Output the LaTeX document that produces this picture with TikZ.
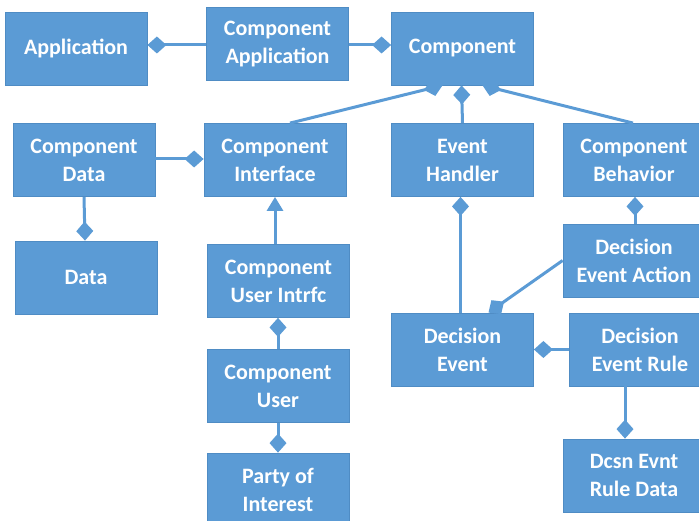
\documentclass[tikz,border=0pt]{standalone}
\usepackage{fontspec}
\setmainfont{Carlito}
\usetikzlibrary{arrows.meta}
\definecolor{boxblue}{HTML}{5B9BD5}
\definecolor{edgeblue}{HTML}{4F8CC4}
\begin{document}
\begin{tikzpicture}[
            x=1pt, y=-1pt,
            entity/.style={
                fill=boxblue,
                draw=edgeblue,
                line width=0.8pt,
                minimum width=142pt,
                minimum height=73pt,
                inner sep=0pt,
                align=center,
                text=white,
                font=\fontsize{22}{28}\selectfont\bfseries
            },
            link/.style={
                draw=boxblue,
                line width=3pt
            },
            owns/.style={
                link,
                -{Diamond[length=19pt,width=17pt]}
            },
            extends/.style={
                link,
                -{Triangle[length=14pt,width=16pt]}
            }
        ]
        \useasboundingbox (0,0) rectangle (699,521);
        \clip (0,0) rectangle (699,521);
        % top row
        \node[entity] (app) at (76, 48.5) {Application};
        \node[entity] (compapp) at (277.5, 44) {Component\\Application};
        \node[entity] (comp) at (462.5, 48.5) {Component};
        % second row
        \node[entity] (cdata) at (84, 160) {Component\\Data};
        \node[entity] (cintf) at (275, 160) {Component\\Interface};
        \node[entity] (evh) at (462.5, 160) {Event\\Handler};
        \node[entity] (cbeh) at (634, 160) {Component\\Behavior};
        % lower part
        \node[entity] (data) at (86, 277.5) {Data};
        \node[entity] (cuintf) at (278.5, 281) {Component\\User Intrfc};
        \node[entity] (dea) at (634, 260.5) {Decision\\Event Action};
        \node[entity] (de) at (462.5, 349.5) {Decision\\Event};
        \node[entity] (der) at (640, 349.5) {Decision\\Event Rule};
        \node[entity] (cuser) at (278, 386) {Component\\User};
        \node[entity] (poi) at (278, 489.5) {Party of\\Interest};
        \node[entity] (derd) at (634, 475.5) {Dcsn Evnt\\Rule Data};
        % connectors
        \draw[owns] ([yshift=-1pt]compapp.west) -- ([yshift=3.5pt]app.east);
        \draw[owns] ([yshift=-1pt]compapp.east) -- ([yshift=3.5pt]comp.west);
        \draw[owns] ([xshift=15pt]cintf.north) -- ([xshift=-20pt]comp.south);
        \draw[owns] (evh.north) -- ([xshift=-1pt]comp.south);
        \draw[owns] ([xshift=-1pt]cbeh.north) -- ([xshift=20pt]comp.south);
        \draw[owns] ([yshift=1pt]cdata.east) -- ([yshift=1pt]cintf.west);
        \draw[owns] (cdata.south) -- ([xshift=-1pt]data.north);
        \draw[extends] ([xshift=-3.5pt]cuintf.north) -- (cintf.south);
        \draw[owns] (cuser.north) -- ([xshift=-0.5pt]cuintf.south);
        \draw[owns] (cuser.south) -- (poi.north);
        \draw[owns] ([xshift=-2pt]de.north) -- ([xshift=-2pt]evh.south);
        \draw[owns] ([xshift=1pt]dea.north) -- ([xshift=1pt]cbeh.south);
        \draw[owns] (dea.west) -- ([xshift=26pt]de.north);
        \draw[owns] (der.west) -- (de.east);
        \draw[owns] ([xshift=-15pt]der.south) -- ([xshift=-9pt]derd.north);
\end{tikzpicture}
\end{document}
